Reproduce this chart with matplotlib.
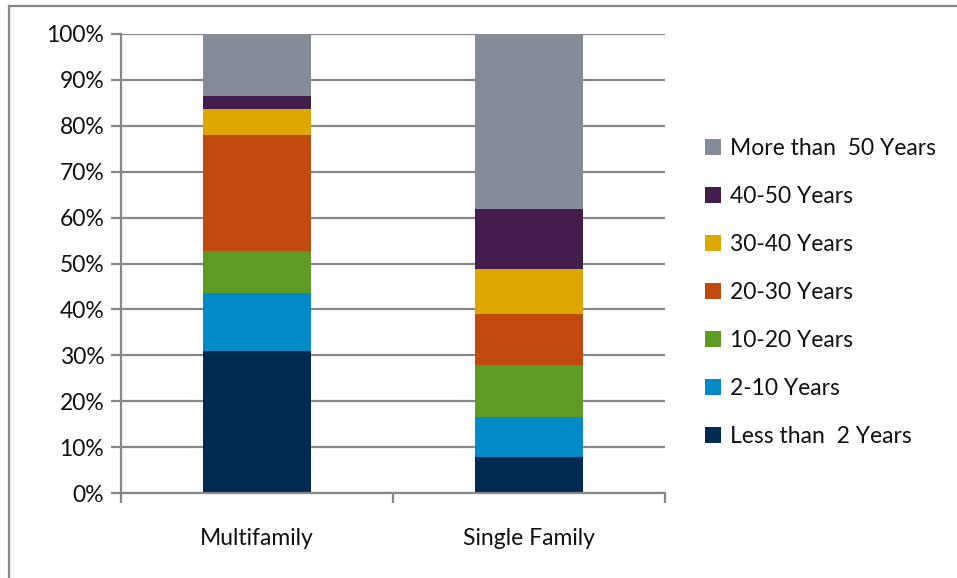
import matplotlib.pyplot as plt
from matplotlib.lines import Line2D
from matplotlib.ticker import PercentFormatter

plt.rcParams['font.family'] = ['Lato', 'DejaVu Sans']

categories = ["Multifamily", "Single Family"]
age_groups = ["Less than  2 Years", "2-10 Years", "10-20 Years", "20-30 Years",
              "30-40 Years", "40-50 Years", "More than  50 Years"]
# share of stock (%) per age group, bottom to top
shares = {
    "Less than  2 Years":  [30.9, 7.8],
    "2-10 Years":          [12.7, 8.8],
    "10-20 Years":         [9.1, 11.3],
    "20-30 Years":         [25.3, 11.0],
    "30-40 Years":         [5.7, 9.9],
    "40-50 Years":         [2.9, 13.1],
    "More than  50 Years": [13.4, 38.1],
}
colors = ["#002a52", "#008ac6", "#5f9a23", "#c04a0e", "#dda700", "#431d4b", "#858b98"]

GRID = "#878787"
FS = 16.5

fig = plt.figure(figsize=(9.57, 5.78), dpi=100)
ax = fig.add_axes([121 / 957, 1 - 493 / 578, 544 / 957, 459 / 578])

x = range(len(categories))
bottom = [0.0] * len(categories)
for name, col in zip(age_groups, colors):
    vals = shares[name]
    ax.bar(x, vals, width=0.4, bottom=bottom, color=col, label=name, zorder=2)
    bottom = [b + v for b, v in zip(bottom, vals)]

ax.set_xlim(-0.5, 1.5)
ax.set_ylim(0, 100)
ax.set_yticks(range(0, 101, 10))
ax.yaxis.set_major_formatter(PercentFormatter(decimals=0))
ax.grid(axis="y", color=GRID, lw=1.6, zorder=0)

ax.set_xticks([-0.5, 0.5, 1.5])
ax.set_xticklabels([])
ax.set_xticks([0, 1], minor=True)
ax.set_xticklabels(categories, minor=True)
ax.tick_params(axis="x", which="minor", length=0, pad=25, labelsize=FS, labelcolor="#111111")
ax.tick_params(axis="x", which="major", length=7, width=1.6, color=GRID, direction="out")
ax.tick_params(axis="y", length=7, width=1.6, color=GRID, labelsize=FS,
               labelcolor="#111111", pad=5)

for side in ["top", "right"]:
    ax.spines[side].set_visible(False)
for side in ["left", "bottom"]:
    ax.spines[side].set_color(GRID)
    ax.spines[side].set_linewidth(1.6)

handles, labels = ax.get_legend_handles_labels()
leg = ax.legend(handles[::-1], labels[::-1], loc="upper left",
                bbox_to_anchor=(705 / 957, 1 - 138 / 578), bbox_transform=fig.transFigure,
                frameon=False, fontsize=FS, handlelength=0.68, handleheight=0.68,
                handletextpad=0.4, labelspacing=1.18, borderaxespad=0, borderpad=0)
for t in leg.get_texts():
    t.set_color("#111111")

# chart-area border (top and left edges)
fig.add_artist(Line2D([9 / 957, 1], [1 - 6 / 578, 1 - 6 / 578], color=GRID, lw=1.6,
                      transform=fig.transFigure))
fig.add_artist(Line2D([9 / 957, 9 / 957], [0, 1 - 6 / 578], color=GRID, lw=1.6,
                      transform=fig.transFigure))

fig.savefig("out.png", dpi=100)
